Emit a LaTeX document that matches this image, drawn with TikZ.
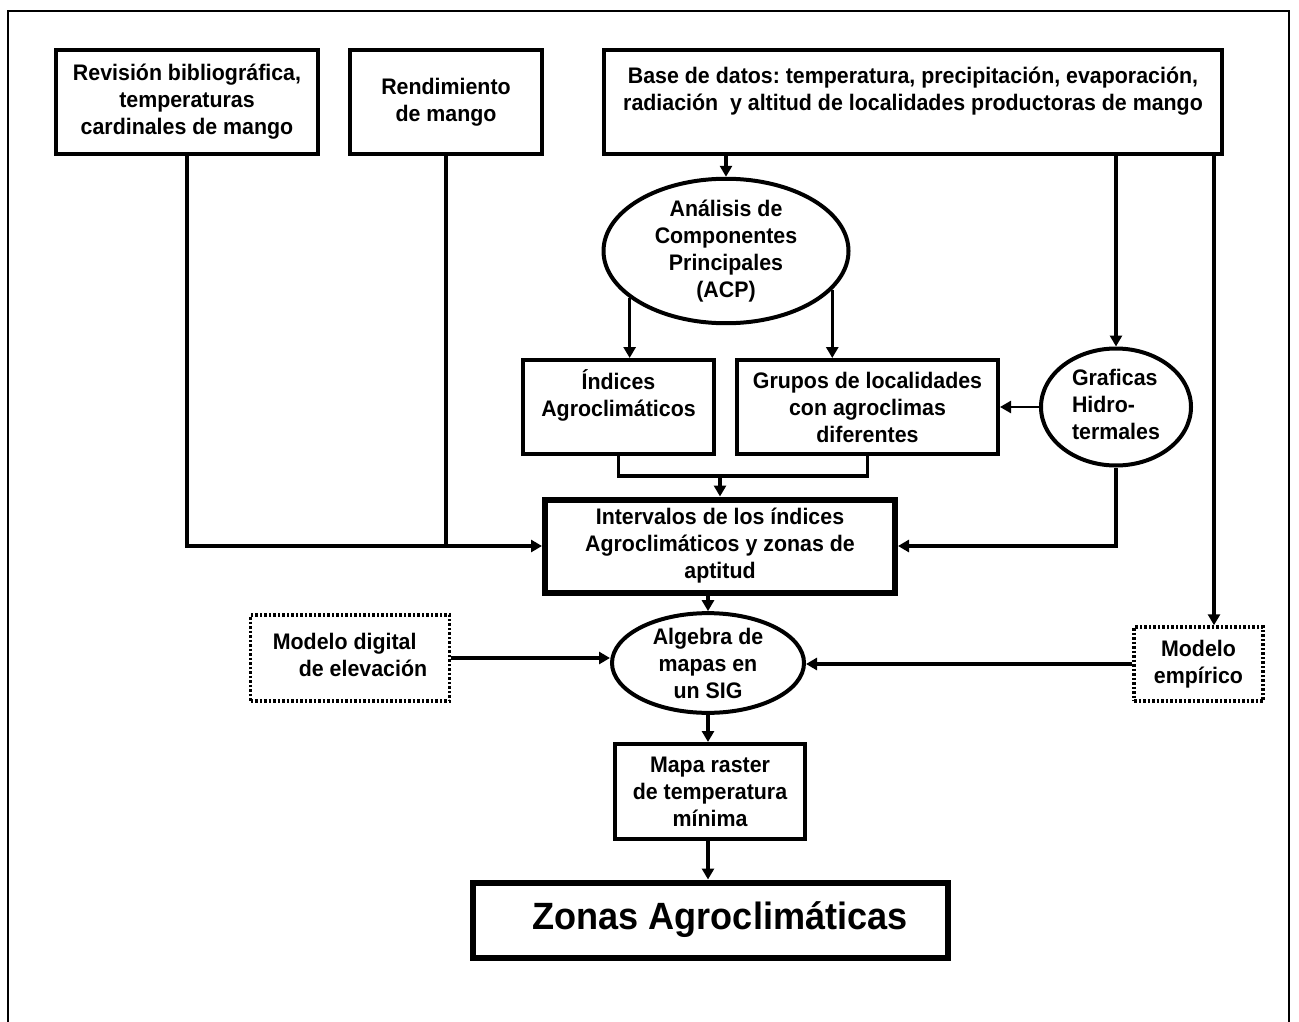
\documentclass[tikz,border=0pt]{standalone}
\usepackage{fontspec}
\setmainfont[FakeStretch=0.95]{Liberation Sans}
\usetikzlibrary{arrows.meta,shapes.geometric,calc}
\frenchspacing
\begin{document}
\begin{tikzpicture}[x=1pt,y=-1pt,
  txt/.style={font=\fontsize{22.5pt}{27pt}\selectfont\bfseries, align=center, inner sep=0pt},
  box/.style={txt, draw, line width=4pt, fill=white, rectangle},
  bigbox/.style={txt, draw, line width=6pt, fill=white, rectangle},
  ell/.style={txt, draw, line width=4pt, fill=white, ellipse},
  dotbox/.style={txt, draw, line width=3.5pt, dash pattern=on 2.5pt off 2pt, fill=white, rectangle},
  conn/.style={line width=3.4pt},
  arr/.style={line width=3.4pt, -{Triangle[length=11pt,width=12pt]}},
  frame/.style={line width=1.6pt}
]
\useasboundingbox (0,0) rectangle (1299,1022);
\draw[frame] (8,1022) -- (8,11) -- (1289,11) -- (1289,1022);

\node[box, minimum width=262, minimum height=104] (b1) at (187,102)
  {Revisión bibliográfica,\\temperaturas\\cardinales de mango};
\node[box, minimum width=192, minimum height=104] (b2) at (446,102)
  {Rendimiento\\de mango};
\node[box, minimum width=618, minimum height=104] (b3) at (913,102)
  {Base de datos: temperatura, precipitación, evaporación,\\radiación\ \ y altitud de localidades productoras de mango\\\mbox{}};
\node[ell, minimum width=245, minimum height=129] (acp) at (726,251)
  {Análisis de\\Componentes\\Principales\\(ACP)};
\node[box, minimum width=191, minimum height=94] (ind) at (618.5,407)
  {Índices\\Agroclimáticos\\\mbox{}};
\node[box, minimum width=261, minimum height=94] (grp) at (867.5,407)
  {Grupos de localidades\\con agroclimas\\diferentes};
\node[ell, minimum width=150, minimum height=117] (hid) at (1116,407)
  {\begin{tabular}{@{}l@{}}Graficas\\Hidro-\\termales\end{tabular}};
\node[bigbox, minimum width=350, minimum height=93] (int) at (720,546)
  {Intervalos de los índices\\Agroclimáticos y zonas de\\aptitud};
\node[dotbox, minimum width=199, minimum height=86] (dig) at (350,658)
  {\begin{tabular}{@{}l@{}}Modelo digital\\\hspace{26pt}de elevación\end{tabular}};
\node[dotbox, minimum width=129, minimum height=74] (emp) at (1198.5,664)
  {Modelo\\empírico};
\node[ell, minimum width=192, minimum height=97] (alg) at (708,663)
  {Algebra de\\mapas en\\un SIG};
\node[box, minimum width=190, minimum height=95] (map) at (710,791.5)
  {Mapa raster\\de temperatura\\mínima};
\node[bigbox, minimum width=475, minimum height=75, font=\fontsize{38pt}{42pt}\selectfont\bfseries] (zon) at (710,920)
  {\hspace{20pt}Zonas Agroclimáticas};

% connectors
\draw[arr] (b1.south) |- (int.west);
\draw[conn] (b2.south) -- (b2.south |- int.west);
\draw[arr] (b3.south -| acp.north) -- (acp.north);
\draw[arr] (b3.south -| hid.north) -- (hid.north);
\coordinate (er) at ($(b3.south east)+(-10,0)$);
\draw[arr] (er) -- (er |- emp.north);
\draw[arr] (acp.206) -- (acp.206 |- ind.north);
\draw[arr] (acp.340) -- (acp.340 |- grp.north);
\coordinate (j) at (int.north |- 0,476);
\draw[conn] (ind.south) |- (j) -| (grp.south);
\draw[arr] (j) -- (int.north);
\draw[arr, line width=2.4pt] (hid.west) -- (hid.west -| grp.east);
\draw[arr] (hid.south) |- (int.east);
\draw[arr] (alg.north |- int.south) -- (alg.north);
\draw[arr] (dig.east) -- (dig.east -| alg.west);
\draw[arr] (emp.west) -- (emp.west -| alg.east);
\draw[arr] (alg.south) -- (alg.south |- map.north);
\draw[arr] (alg.south |- map.south) -- (alg.south |- zon.north);
\end{tikzpicture}
\end{document}
